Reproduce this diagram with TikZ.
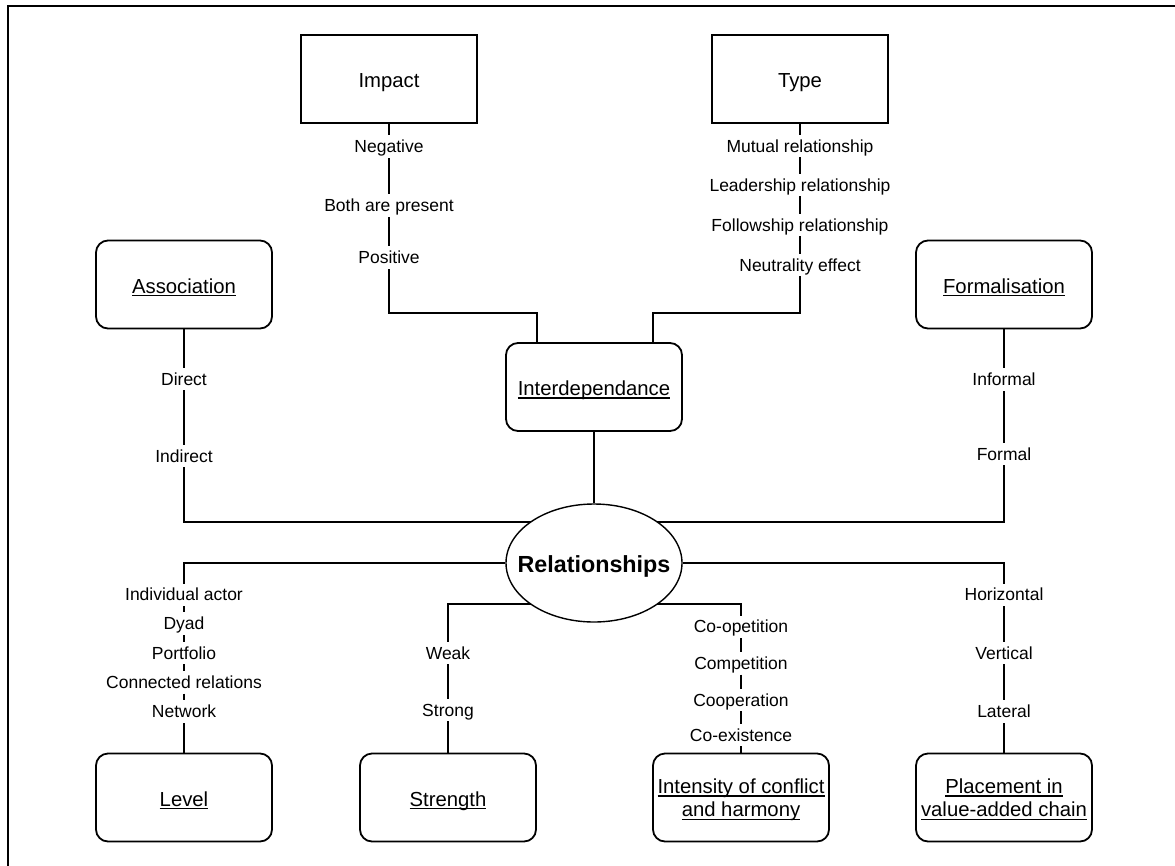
\documentclass[tikz,border=0pt]{standalone}
\usepackage{fontspec}
\setmainfont{Liberation Sans}
\usetikzlibrary{shapes.geometric,backgrounds}
\newsavebox\ulbox
\newcommand{\myul}[1]{\sbox\ulbox{#1}\rlap{\rule[-0.16em]{\wd\ulbox}{0.07em}}\usebox\ulbox}
\tikzset{
  frameline/.style={line width=2.3pt},
  conn/.style={line width=1.9pt},
  sharpbox/.style={draw, line width=1.8pt, minimum width=176pt, minimum height=88pt, inner sep=0pt,
    font=\fontsize{20.3}{22.3}\selectfont, text height=21.3pt, text depth=4pt},
  roundbox/.style={draw, line width=1.8pt, rounded corners=12pt, minimum width=176pt, minimum height=88pt,
    inner sep=0pt, align=center, font=\fontsize{20.3}{22.3}\selectfont, text height=21.3pt, text depth=4pt},
  roundboxtwo/.style={roundbox, font=\fontsize{20.3}{23.4}\selectfont, text height=42.7pt, text depth=4.3pt},
  ell/.style={draw, ellipse, fill=white, line width=1.4pt, minimum width=176pt, minimum height=118pt,
    inner sep=0pt, font=\fontsize{23.3}{26}\selectfont\bfseries, text height=24.5pt, text depth=5.1pt},
  lab/.style={fill=white, anchor=base, inner xsep=2pt, inner ysep=3pt, font=\fontsize{17.5}{21}\selectfont,
    text height=14pt, text depth=2pt}
}
\begin{document}
\begin{tikzpicture}[x=1pt,y=-1pt]
\useasboundingbox (0,0) rectangle (1175,865);
\draw[frameline] (8,870) -- (8,6) -- (1180,6);

% main boxes
\node[sharpbox] (impact) at (389,79) {Impact};
\node[sharpbox] (type) at (800,79) {Type};
\node[roundbox] (assoc) at (184,284.5) {\myul{Association}};
\node[roundbox] (formal) at (1004,284.5) {\myul{Formalisation}};
\node[roundbox] (interdep) at (594,387) {\myul{Interdependance}};
\node[ell] (rel) at (594,563) {\makebox[0pt]{Relationships}};
\node[roundbox] (level) at (184,797.5) {\myul{Level}};
\node[roundbox] (strength) at (448,797.5) {\myul{Strength}};
\node[roundboxtwo] (intensity) at (741,797.5) {\myul{Intensity of conflict}\\\myul{and harmony}};
\node[roundboxtwo] (placement) at (1004,797.5) {\myul{Placement in}\\\myul{value-added chain}};

% junction coordinates
\coordinate (impJ) at (537,313);
\coordinate (typJ) at (653,313);
\coordinate (relUL) at (594,522);
\coordinate (relLL) at (594,604);

% labels (positioned at baselines)
\node[lab] (neg) at (389,152.5) {Negative};
\node[lab] (both) at (389,211.5) {Both are present};
\node[lab] (pos) at (389,263.5) {Positive};

\node[lab] (mut) at (800,152) {Mutual relationship};
\node[lab] (lead) at (800,191) {Leadership relationship};
\node[lab] (foll) at (800,231) {Followship relationship};
\node[lab] (neut) at (800,271) {Neutrality effect};

\node[lab] (dir) at (184,385) {Direct};
\node[lab] (indir) at (184,462) {Indirect};

\node[lab] (inf) at (1004,385.5) {Informal};
\node[lab] (form) at (1004,460) {Formal};

\node[lab] (ind) at (184,600.7) {Individual actor};
\node[lab] (dyad) at (184,629.5) {Dyad};
\node[lab] (port) at (184,659) {Portfolio};
\node[lab] (conrel) at (184,688.3) {Connected relations};
\node[lab] (netw) at (184,717.5) {Network};

\node[lab] (weak) at (448,659) {Weak};
\node[lab] (strong) at (448,716) {Strong};

\node[lab] (coop1) at (741,632.7) {Co-opetition};
\node[lab] (comp) at (741,669.3) {Competition};
\node[lab] (coop2) at (741,706) {Cooperation};
\node[lab] (coex) at (741,741) {Co-existence};

\node[lab] (hor) at (1004,600.7) {Horizontal};
\node[lab] (vert) at (1004,659) {Vertical};
\node[lab] (lat) at (1004,717.5) {Lateral};

% connectors
\begin{scope}[on background layer]
% Impact chain
\draw[conn] (impact.south) -- (neg.north);
\draw[conn] (neg.south) -- (both.north);
\draw[conn] (both.south) -- (pos.north);
\draw[conn] (pos.south) |- (impJ) -- (impJ |- interdep.north);
% Type chain
\draw[conn] (type.south) -- (mut.north);
\draw[conn] (mut.south) -- (lead.north);
\draw[conn] (lead.south) -- (foll.north);
\draw[conn] (foll.south) -- (neut.north);
\draw[conn] (neut.south) |- (typJ) -- (typJ |- interdep.north);
% Interdependance
\draw[conn] (interdep.south) -- (rel.north);
% Association
\draw[conn] (assoc.south) -- (dir.north);
\draw[conn] (dir.south) -- (indir.north);
\draw[conn] (indir.south) |- (relUL);
% Formalisation
\draw[conn] (formal.south) -- (inf.north);
\draw[conn] (inf.south) -- (form.north);
\draw[conn] (form.south) |- (relUL);
% Level
\draw[conn] (rel.west) -| (ind.north);
\draw[conn] (ind.south) -- (dyad.north);
\draw[conn] (dyad.south) -- (port.north);
\draw[conn] (port.south) -- (conrel.north);
\draw[conn] (conrel.south) -- (netw.north);
\draw[conn] (netw.south) -- (level.north);
% Strength
\draw[conn] (relLL) -| (weak.north);
\draw[conn] (weak.south) -- (strong.north);
\draw[conn] (strong.south) -- (strength.north);
% Intensity
\draw[conn] (relLL) -| (coop1.north);
\draw[conn] (coop1.south) -- (comp.north);
\draw[conn] (comp.south) -- (coop2.north);
\draw[conn] (coop2.south) -- (coex.north);
\draw[conn] (coex.south) -- (intensity.north);
% Placement
\draw[conn] (rel.east) -| (hor.north);
\draw[conn] (hor.south) -- (vert.north);
\draw[conn] (vert.south) -- (lat.north);
\draw[conn] (lat.south) -- (placement.north);
\end{scope}
\end{tikzpicture}
\end{document}
